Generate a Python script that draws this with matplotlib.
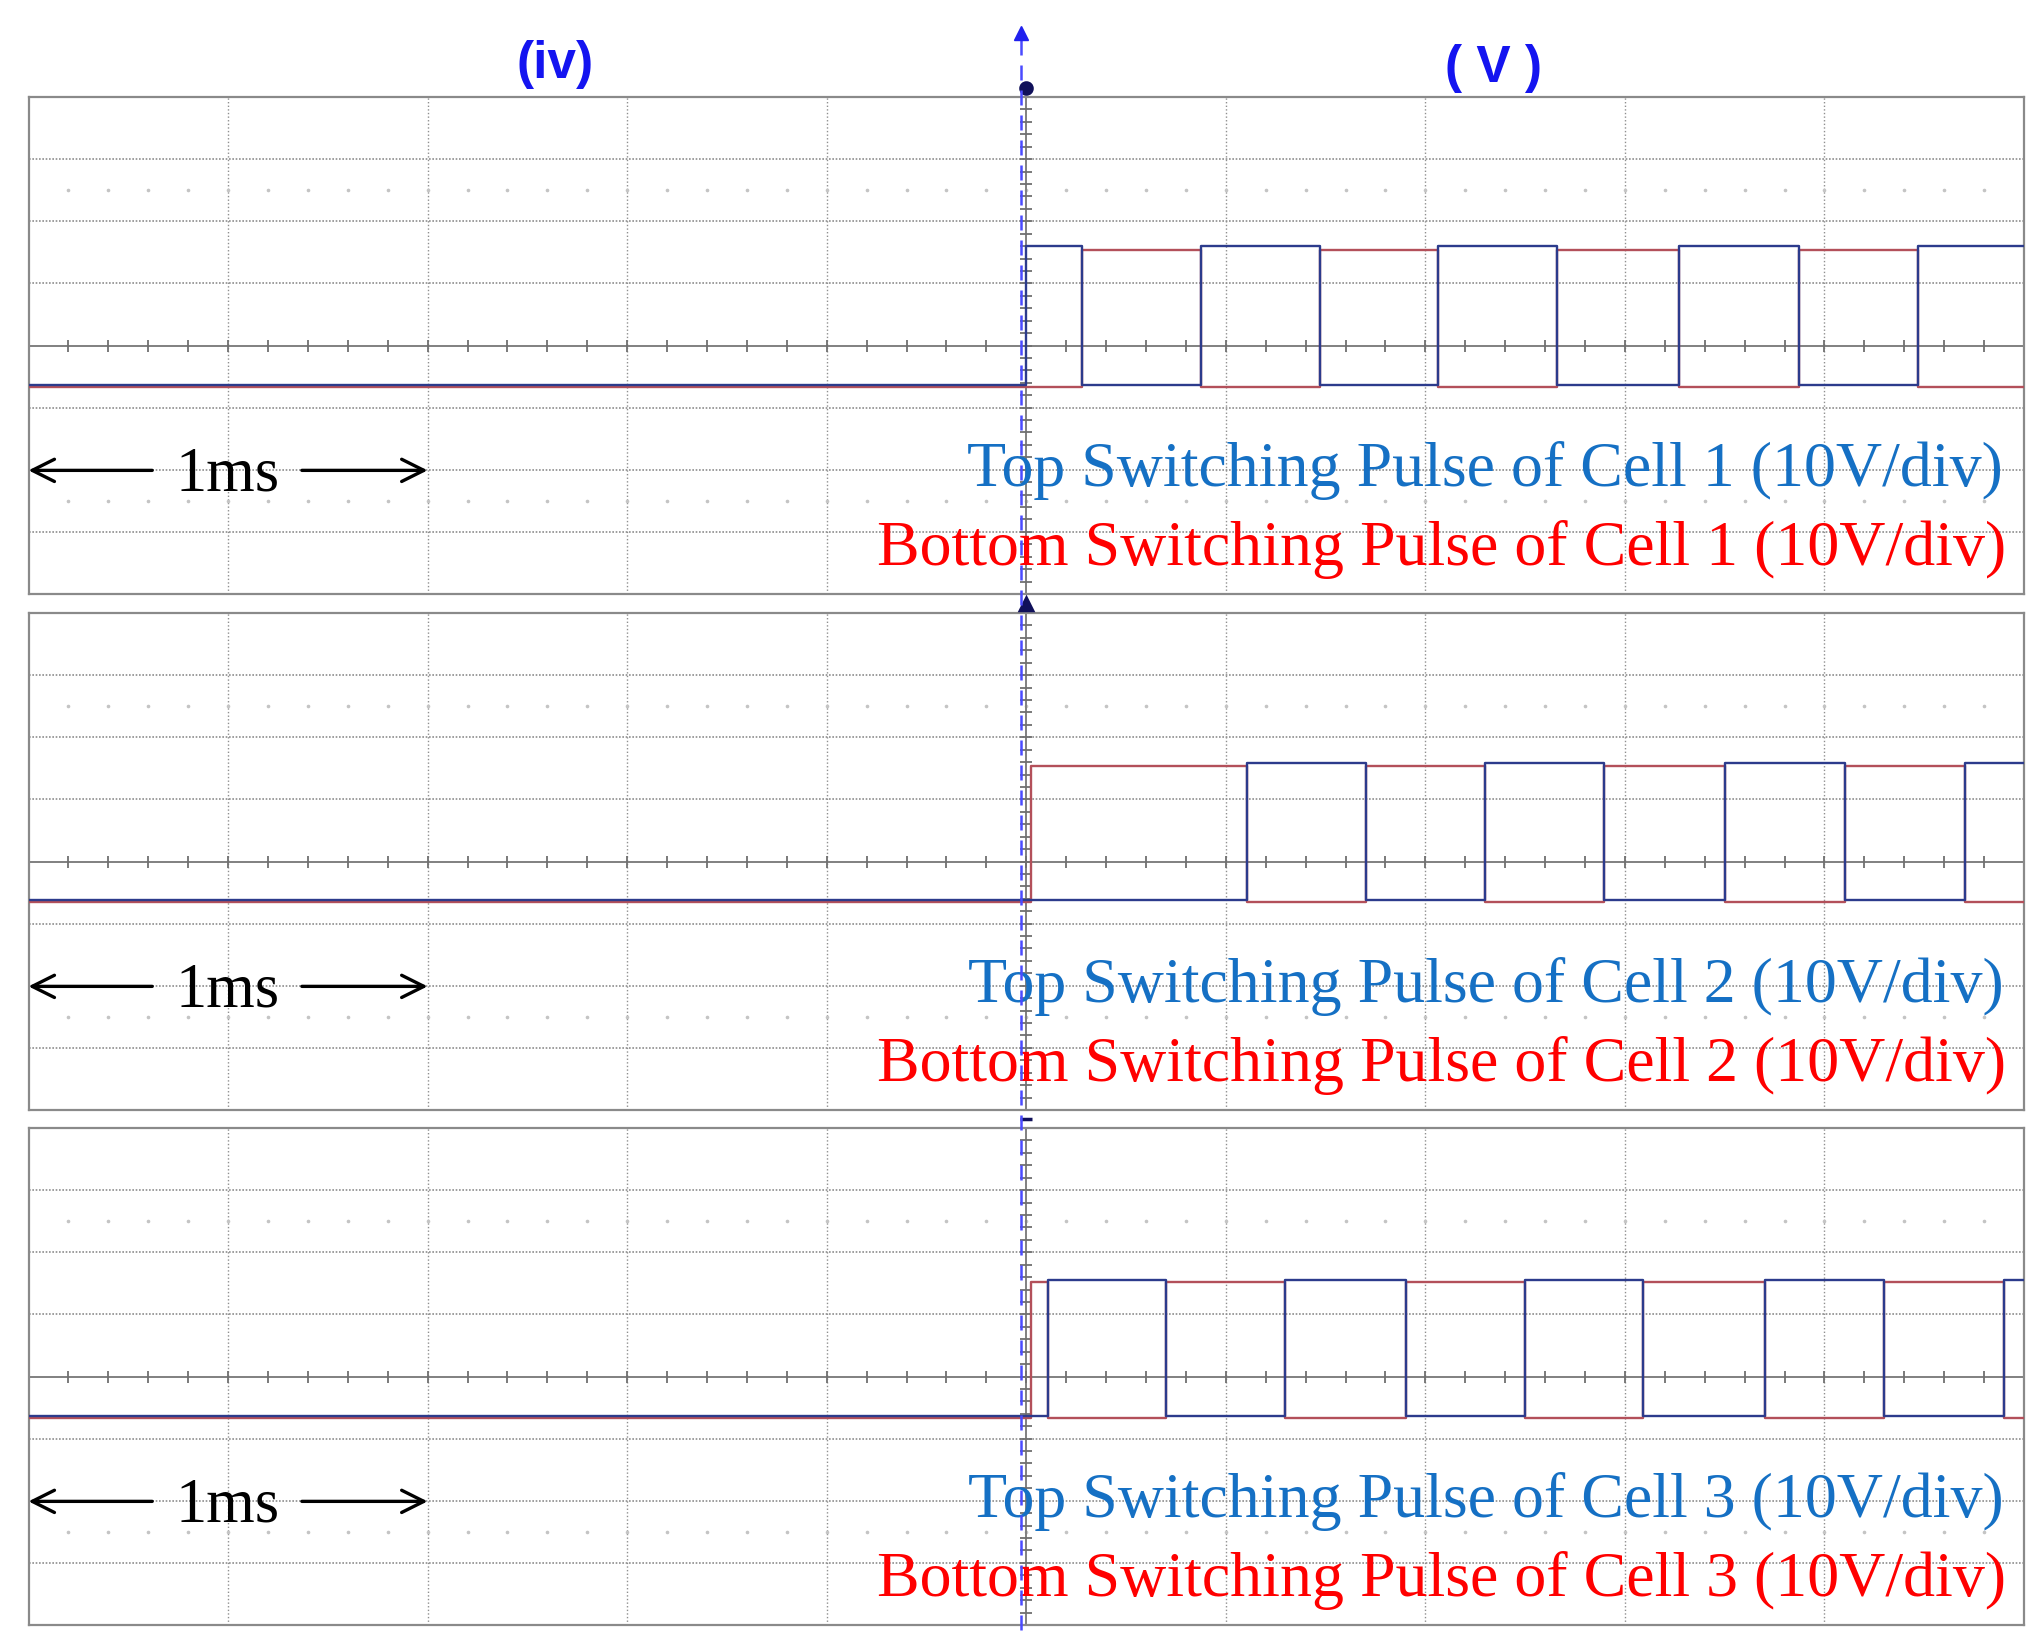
import numpy as np
import matplotlib
matplotlib.use("Agg")
import matplotlib.pyplot as plt
from matplotlib import transforms
from matplotlib.lines import Line2D

# ---------------- data ----------------
# time in ms (trigger at 0, 0.5 ms/div), voltage in V (10 V/div)
t_min, t_max = -2.5, 2.5
v_min, v_max = -40.0, 40.0

cells = ["1", "2", "3"]
# switching instants (ms) where the high trace changes
edges_1 = [0.000, 0.140, 0.438, 0.737, 1.032, 1.331, 1.636, 1.935, 2.234]
edges_2 = [0.013, 0.552, 0.851, 1.149, 1.448, 1.750, 2.052, 2.351]
edges_3 = [0.013, 0.055, 0.351, 0.649, 0.951, 1.250, 1.545, 1.851, 2.149, 2.451]
first_high = ["top", "bottom", "bottom"]
top_high_v = [16.0, 15.8, 15.6]
bottom_high_v = [15.4, 15.4, 15.2]
top_low_v = [-6.3, -6.2, -6.4]
bottom_low_v = [-6.7, -6.5, -6.7]

section_labels = ["(iv)", "( V )"]
section_label_t = [-1.18, 1.17]

# ---------------- styles ----------------
TOP_COL = "#2c3b8c"
BOT_COL = "#b3505a"
TOP_TXT = "#1570c4"
BOT_TXT = "#ff0000"
GRID_COL = "#8e8e8e"
SERIF = ["Liberation Serif", "DejaVu Serif"]


def square(edges, high_first, hi, lo):
    x = [t_min]
    y = [lo]
    level = lo
    for k, e in enumerate(edges):
        new = hi if ((k % 2 == 0) == high_first) else lo
        x += [e, e]
        y += [level, new]
        level = new
    x.append(t_max)
    y.append(level)
    return np.array(x), np.array(y)


fig = plt.figure(figsize=(20.35, 16.5), dpi=100)
W, H = 2035.0, 1650.0
left_px, right_px = 28.5, 2024.0
tops_px = [97.0, 613.0, 1128.0]
panel_h_px = 497.0

all_edges = [edges_1, edges_2, edges_3]
axes = []
for i in range(3):
    bottom = 1 - (tops_px[i] + panel_h_px) / H
    ax = fig.add_axes([left_px / W, bottom, (right_px - left_px) / W, panel_h_px / H])
    axes.append(ax)
    ax.set_xlim(t_min, t_max)
    ax.set_ylim(v_min, v_max)
    ax.set_xticks([])
    ax.set_yticks([])
    for s in ax.spines.values():
        s.set_color("#8a8a8a")
        s.set_linewidth(1.6)

    # grid
    for v in np.arange(-30, 31, 10):
        if v == 0:
            continue
        ax.axhline(v, color=GRID_COL, lw=1.2, ls=(0, (1, 1)), zorder=1)
    for t in np.arange(-2.0, 2.01, 0.5):
        if abs(t) < 1e-9:
            continue
        ax.axvline(t, color="#8f8f8f", lw=1.0, ls=(0, (1, 1.6)), zorder=1)
    # faint dot rows
    dots_t = np.arange(-2.4, 2.41, 0.1)
    for v in (-25, 25):
        ax.plot(dots_t, np.full_like(dots_t, v), ls="none", marker="o",
                ms=1.6, color="#c4c4c4", zorder=1)
    # centre cross with ticks
    ax.axhline(0, color="#808080", lw=1.4, zorder=2)
    ax.axvline(0, color="#808080", lw=1.4, zorder=2)
    tk_t = np.arange(-2.4, 2.41, 0.1)
    ax.plot(tk_t, np.zeros_like(tk_t), ls="none", marker="|", ms=8,
            mew=1.3, color="#707070", zorder=2)
    tk_v = np.arange(-38, 39, 2)
    ax.plot(np.zeros_like(tk_v, dtype=float), tk_v, ls="none", marker="_",
            ms=8, mew=1.3, color="#707070", zorder=2)

    # traces
    hf_top = first_high[i] == "top"
    xb, yb = square(all_edges[i], not hf_top, bottom_high_v[i], bottom_low_v[i])
    xt, yt = square(all_edges[i], hf_top, top_high_v[i], top_low_v[i])
    ax.plot(xb, yb, color=BOT_COL, lw=1.7, zorder=4)
    ax.plot(xt, yt, color=TOP_COL, lw=1.7, zorder=5)

    # labels
    ax.text(2.448, -22.6, f"Top Switching Pulse of Cell {cells[i]} (10V/div)",
            color=TOP_TXT, fontsize=46, family=SERIF, ha="right",
            va="baseline", zorder=6)
    ax.text(2.455, -35.3, f"Bottom Switching Pulse of Cell {cells[i]} (10V/div)",
            color=BOT_TXT, fontsize=46, family=SERIF, ha="right",
            va="baseline", zorder=6)
    # 1 ms scale
    ax.text(-2.0, -23.3, "1ms", color="black", fontsize=45, family=SERIF,
            ha="center", va="baseline", zorder=6)
    ax.annotate("", xy=(-2.5, -20.1), xytext=(-2.19, -20.1),
                arrowprops=dict(arrowstyle="->", lw=2.4, color="black",
                                mutation_scale=40, shrinkA=0, shrinkB=0),
                annotation_clip=False, zorder=6)
    ax.annotate("", xy=(-1.5, -20.1), xytext=(-1.815, -20.1),
                arrowprops=dict(arrowstyle="->", lw=2.4, color="black",
                                mutation_scale=40, shrinkA=0, shrinkB=0),
                annotation_clip=False, zorder=6)

# trigger markers above each panel
mk = ["o", "^", "_"]
for i, ax in enumerate(axes):
    ax.plot([0.0], [v_max + 1.5], marker=mk[i], ms=8, mew=2.5,
            color="#10105a", clip_on=False, zorder=7)

# section labels
for lab, tt, yy in zip(section_labels, section_label_t, [1.066, 1.058]):
    axes[0].text(tt, yy, lab, transform=transforms.blended_transform_factory(
        axes[0].transData, axes[0].transAxes), color="#1414f0", fontsize=37,
        fontweight="bold", family=["Liberation Sans", "DejaVu Sans"],
        ha="center", va="center")

# trigger cursor (dashed blue) spanning all panels
bt = transforms.blended_transform_factory(axes[0].transData, fig.transFigure)
cursor_t = -0.0125
fig.add_artist(Line2D([cursor_t, cursor_t], [1 - 1630 / H, 1 - 40 / H],
                      transform=bt, color="#4a4aff", lw=1.8,
                      ls=(0, (6, 4))))
fig.add_artist(Line2D([cursor_t], [1 - 33 / H], transform=bt, marker="^",
                      ms=10, color="#2020ee", ls="none"))

fig.savefig("out.png", dpi=100, facecolor="white")
